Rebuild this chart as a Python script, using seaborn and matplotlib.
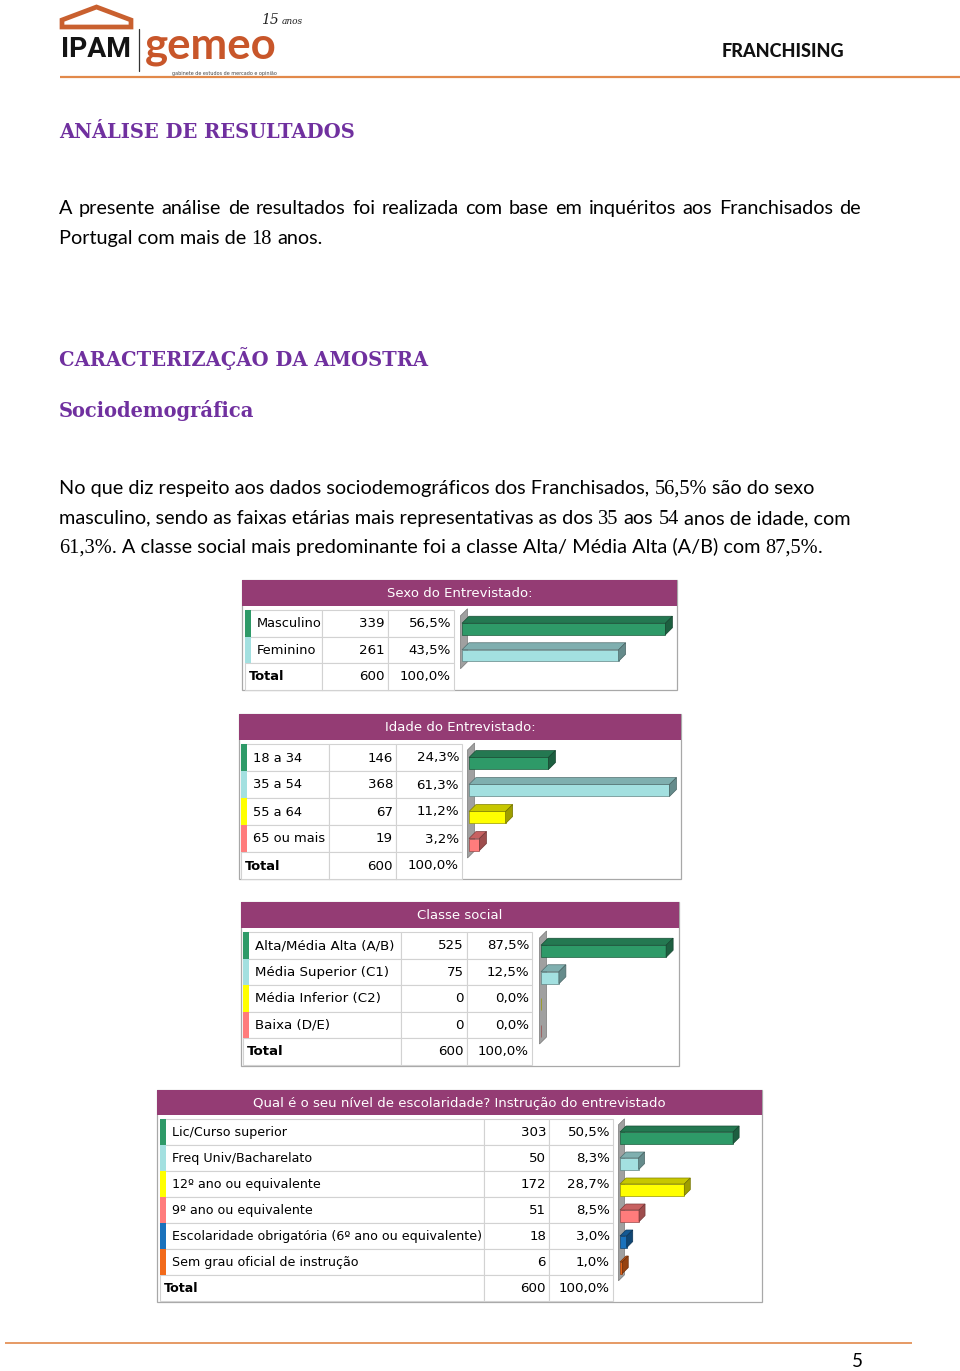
import matplotlib
matplotlib.use("Agg")
import matplotlib.pyplot as plt
import seaborn as sns
import numpy as np
import matplotlib.colors as mcolors
from matplotlib.patches import Rectangle, Polygon
from matplotlib.transforms import IdentityTransform

# ---------------- data ----------------
sexo_labels = ["Masculino", "Feminino"]
sexo_n = [339, 261]
sexo_pct = [56.5, 43.5]

idade_labels = ["18 a 34", "35 a 54", "55 a 64", "65 ou mais"]
idade_n = [146, 368, 67, 19]
idade_pct = [24.3, 61.3, 11.2, 3.2]

classe_labels = ["Alta/Média Alta (A/B)", "Média Superior (C1)",
                 "Média Inferior (C2)", "Baixa (D/E)"]
classe_n = [525, 75, 0, 0]
classe_pct = [87.5, 12.5, 0.0, 0.0]

escol_labels = ["Lic/Curso superior", "Freq Univ/Bacharelato",
                "12º ano ou equivalente", "9º ano ou equivalente",
                "Escolaridade obrigatória (6º ano ou equivalente)",
                "Sem grau oficial de instrução"]
escol_n = [303, 50, 172, 51, 18, 6]
escol_pct = [50.5, 8.3, 28.7, 8.5, 3.0, 1.0]

total_n = 600
total_pct = 100.0

table_titles = ["Sexo do Entrevistado:", "Idade do Entrevistado:",
                "Classe social",
                "Qual é o seu nível de escolaridade? Instrução do entrevistado"]

# ---------------- style ----------------
sns.set_theme(style="white")
plt.rcParams['font.family'] = ['DejaVu Sans']

PURPLE_HEAD = '#943c74'
HEAD_TXT = '#70309f'
ORANGE_LINE = '#e2894a'
PAL = ['#2e9a68', '#a3e0e0', '#ffff00', '#ff7c7c', '#1a72bc', '#f26a1b']
TXT = '#000000'
BODY = 'Lato'
SERIF = 'Liberation Serif'
SERIF_F = 1.03

W, H = 960, 1371
fig = plt.figure(figsize=(W / 100, H / 100), dpi=100)
fig.patch.set_facecolor('white')
page = fig.add_axes([0, 0, 1, 1])
page.set_xlim(0, W)
page.set_ylim(H, 0)
page.axis('off')
renderer = fig.canvas.get_renderer()


def text_w(s, size, **kw):
    t1 = page.text(0, 0, "|" + s + "|", fontsize=size, **kw)
    t2 = page.text(0, 0, "||", fontsize=size, **kw)
    w = t1.get_window_extent(renderer).width - t2.get_window_extent(renderer).width
    t1.remove()
    t2.remove()
    return w


def fit_size(s, target, base=12, **kw):
    return base * target / text_w(s, base, **kw)


def seg_size(fam, size):
    return size * SERIF_F if fam == SERIF else size


def segs_width(segs, size):
    return sum(text_w(s, seg_size(f, size), family=f) for s, f in segs)


def draw_segments(x, y, segs, size, color):
    for s, fam in segs:
        sz = seg_size(fam, size)
        lead = len(s) - len(s.lstrip())
        core = s.strip()
        xo = x + (text_w(s[:lead], sz, family=fam) if lead else 0)
        if core:
            page.text(xo, y, core, fontsize=sz, family=fam, color=color,
                      ha='left', va='baseline')
        x += text_w(s, sz, family=fam)


def draw_justified(x, y, line, width, size, fam, color):
    words = line.split(' ')
    ws = [text_w(w_, size, family=fam) for w_ in words]
    gap = (width - sum(ws)) / (len(words) - 1)
    for w_, wd in zip(words, ws):
        page.text(x, y, w_, fontsize=size, family=fam, color=color,
                  ha='left', va='baseline')
        x += wd + gap


def fmt_pct(v):
    return f"{v:.1f}".replace('.', ',') + '%'


# ---------------- header / logo ----------------
roof = [(62, 27), (62, 20), (96.5, 7), (131, 20), (131, 27)]
page.add_patch(Polygon(roof, closed=True, fill=False, ec='#c9602f', lw=3.4,
                       joinstyle='miter'))
s_ipam = fit_size("IPAM", 70, family='Roboto', weight='bold')
page.text(61, 57, "IPAM", fontsize=s_ipam, family='Roboto', weight='bold',
          color='#141414', va='baseline')
page.plot([139, 139], [29, 71], color='#333333', lw=0.9)
s_gem = fit_size("gemeo", 131, family='Lato', weight='bold')
page.text(145, 59, "gemeo", fontsize=s_gem, family='Lato', weight='bold',
          color='#c8562a', va='baseline')
page.text(261, 23.5, "15", fontsize=10, family='DejaVu Serif', style='italic',
          color='#222222', va='baseline')
page.text(282, 23.5, "anos", fontsize=6.5, family='DejaVu Serif', style='italic',
          color='#222222', va='baseline')
s_gab = fit_size("gabinete de estudos de mercado e opinião", 103, family='DejaVu Sans')
page.text(172, 75, "gabinete de estudos de mercado e opinião", fontsize=s_gab,
          family='DejaVu Sans', color='#444444', va='baseline')

s_fr = fit_size("FRANCHISING", 121, family='Lato', weight='black')
page.text(722, 57, "FRANCHISING", fontsize=s_fr, family='Lato', weight='black',
          color='#111111', va='baseline')
page.plot([60, 960], [77, 77], color=ORANGE_LINE, lw=1.6, solid_capstyle='butt')

# ---------------- headings & body ----------------
s_head = fit_size("CARACTERIZAÇÃO DA AMOSTRA", 369, family='DejaVu Serif', weight='bold')
for txt, yb in [("ANÁLISE DE RESULTADOS", 138), ("CARACTERIZAÇÃO DA AMOSTRA", 366),
                ("Sociodemográfica", 417)]:
    page.text(59, yb, txt, fontsize=s_head, family='DejaVu Serif', weight='bold',
              color=HEAD_TXT, va='baseline')

p2l1 = [("No que diz respeito aos dados sociodemográficos dos Franchisados, ", BODY),
        (fmt_pct(sexo_pct[0]), SERIF), (" são do sexo", BODY)]
s_body = 12 * 753 / segs_width(p2l1, 12)

line1 = "A presente análise de resultados foi realizada com base em inquéritos aos Franchisados de"
draw_justified(59, 214, line1, 802, s_body, BODY, TXT)
draw_segments(59, 244, [("Portugal com mais de ", BODY), ("18", SERIF), (" anos.", BODY)],
              s_body, TXT)
draw_segments(59, 494, p2l1, s_body, TXT)
draw_segments(59, 524, [("masculino, sendo as faixas etárias mais representativas as dos ", BODY),
                        ("35", SERIF), (" aos ", BODY), ("54", SERIF),
                        (" anos de idade, com", BODY)], s_body, TXT)
draw_segments(59, 553, [(fmt_pct(idade_pct[1]), SERIF),
                        (". A classe social mais predominante foi a classe Alta/ Média Alta (A/B) com ", BODY),
                        (fmt_pct(classe_pct[0]), SERIF), (".", BODY)], s_body, TXT)


# ---------------- tables with 3D bars ----------------
def darker(c, f):
    r, g, b, a = mcolors.to_rgba(c)
    return (r * f, g * f, b * f, 1)


def draw_table(box, header_h, cols, row_top, row_h, title, labels, counts, pcts,
               bar_x0, pxpp, front_h=12, depth=7, fs_lab=9.4, fs_num=9.6, fs_title=9.5):
    x0, y0, x1, y1 = box
    page.add_patch(Rectangle((x0, y0), x1 - x0, y1 - y0, fc='white', ec='#a8a8a8',
                             lw=0.9, zorder=1))
    page.add_patch(Rectangle((x0, y0), x1 - x0, header_h, fc=PURPLE_HEAD, ec='none',
                             zorder=2))
    page.text((x0 + x1) / 2, y0 + header_h / 2 + 0.5, title, color='white',
              fontsize=fs_title, ha='center', va='center', zorder=3)
    n = len(labels)
    colors = PAL[:n]
    rows = list(zip(labels, counts, pcts)) + [("Total", total_n, total_pct)]
    for r, (lab, cnt, pc) in enumerate(rows):
        yt = row_top + r * row_h
        yc = yt + row_h / 2 + 0.5
        for c in range(3):
            page.add_patch(Rectangle((cols[c], yt), cols[c + 1] - cols[c], row_h,
                                     fc='white', ec='#d2d2d2', lw=0.8, zorder=2))
        if r < n:
            page.add_patch(Rectangle((cols[0], yt), 6, row_h, fc=colors[r],
                                     ec='none', zorder=3))
            page.text(cols[0] + 12, yc, lab, fontsize=fs_lab, color=TXT, ha='left',
                      va='center', zorder=4)
        else:
            page.text(cols[0] + 4, yc, lab, fontsize=fs_lab, color=TXT, weight='bold',
                      ha='left', va='center', zorder=4)
        page.text(cols[2] - 3, yc, str(cnt), fontsize=fs_num, color=TXT, ha='right',
                  va='center', zorder=4)
        page.text(cols[3] - 3, yc, fmt_pct(pc), fontsize=fs_num, color=TXT, ha='right',
                  va='center', zorder=4)

    # bar axes: category i centred at row centre + front_h/2
    ax_top = row_top + front_h / 2
    ax_h = n * row_h
    ax_w = x1 - 6 - bar_x0
    bax = fig.add_axes([bar_x0 / W, 1 - (ax_top + ax_h) / H, ax_w / W, ax_h / H])
    sns.barplot(x=pcts, y=labels, hue=labels, palette=colors, orient='h',
                width=front_h / row_h, saturation=1, legend=False, ax=bax,
                linewidth=0)
    bax.set_xlim(0, ax_w / pxpp)
    bax.set_ylim(n - 0.5, -0.5)
    bax.axis('off')
    bax.patch.set_alpha(0)

    td = bax.transData
    xd0 = td.transform((0, 0))[0]
    ytop_d = td.transform((0, -0.5))[1]
    ybot_d = td.transform((0, n - 0.5))[1]
    xw = xd0 - 1.5
    wall = [(xw, ybot_d), (xw, ytop_d), (xw + depth, ytop_d + depth),
            (xw + depth, ybot_d + depth)]
    page.add_patch(Polygon([(x, H - y) for x, y in wall], closed=True,
                           fc='#a0a0a0', ec='#767676', lw=0.5, zorder=2))

    for p in bax.patches:
        fc = p.get_facecolor()
        p.set_edgecolor(darker(fc, 0.6))
        p.set_linewidth(0.5)
        p.set_zorder(3)
        bb = p.get_bbox()
        (ax0, ay0), (ax1, ay1) = td.transform([(bb.x0, bb.y0), (bb.x1, bb.y1)])
        lx, rx = min(ax0, ax1), max(ax0, ax1)
        lo, hi = min(ay0, ay1), max(ay0, ay1)
        if rx - lx < 0.5:
            continue
        top = [(lx, hi), (rx, hi), (rx + depth, hi + depth), (lx + depth, hi + depth)]
        side = [(rx, lo), (rx + depth, lo + depth), (rx + depth, hi + depth), (rx, hi)]
        fig.add_artist(Polygon(top, closed=True, transform=IdentityTransform(),
                               fc=darker(fc, 0.78), ec=darker(fc, 0.5), lw=0.5,
                               zorder=3))
        fig.add_artist(Polygon(side, closed=True, transform=IdentityTransform(),
                               fc=darker(fc, 0.62), ec=darker(fc, 0.45), lw=0.5,
                               zorder=3))
    return bax


draw_table((242, 580, 677, 690), 26, [245, 322, 388, 454], 610, 26.5,
           table_titles[0], sexo_labels, sexo_n, sexo_pct, 462, 3.6,
           front_h=11.5, depth=7)
draw_table((239, 714, 681, 879), 26, [241, 329, 396, 462], 744, 27,
           table_titles[1], idade_labels, idade_n, idade_pct, 469, 3.27,
           front_h=12, depth=7)
draw_table((241, 902, 679, 1066), 26, [243, 401, 467, 532], 932, 26.5,
           table_titles[2], classe_labels, classe_n, classe_pct, 541, 1.43,
           front_h=12, depth=7, fs_lab=9.6)
draw_table((157, 1090, 762, 1302), 25, [160, 484, 549, 613], 1119, 26,
           table_titles[3], escol_labels, escol_n, escol_pct, 620, 2.24,
           front_h=11.6, depth=6, fs_lab=9.05)

# ---------------- footer ----------------
page.plot([5, 912], [1343, 1343], color=ORANGE_LINE, lw=1.2, solid_capstyle='butt')
page.text(857, 1367, "5", fontsize=s_body * 0.95, family=BODY, color=TXT,
          ha='center', va='baseline')

fig.savefig("out.png", dpi=100, facecolor='white')
